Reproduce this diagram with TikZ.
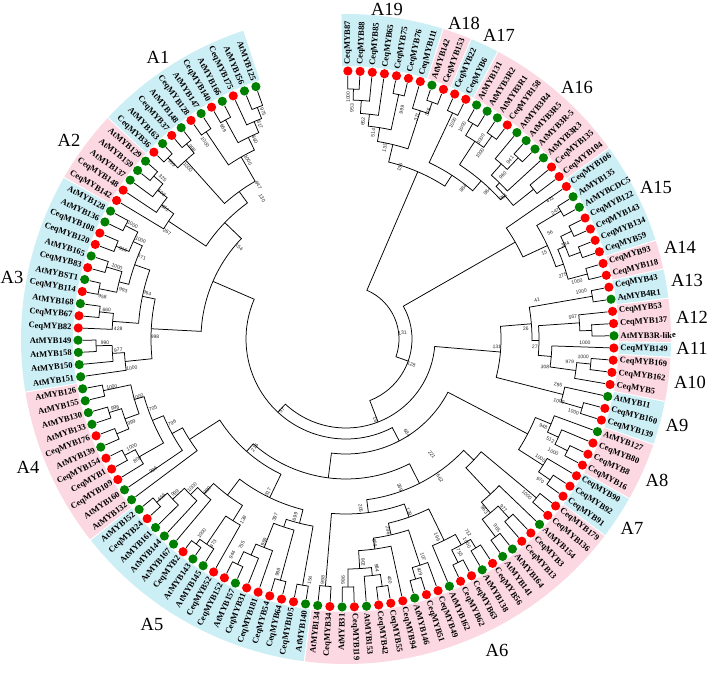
\documentclass[tikz,border=0pt]{standalone}
\usepackage{fontspec}
\setmainfont{Liberation Serif}
\newfontfamily\bsfont{Liberation Sans}
\definecolor{bandblue}{RGB}{204,238,245}
\definecolor{bandpink}{RGB}{251,216,226}
\definecolor{dotr}{RGB}{255,0,0}
\definecolor{dotg}{RGB}{0,128,0}
\tikzset{
 leaflab/.style={font=\fontsize{8.5}{9}\selectfont\bfseries, inner sep=0pt},
 bslab/.style={font=\bsfont\fontsize{5}{5}\selectfont, text=black!85, inner sep=0.3pt},
 br/.style={line width=0.75pt, black, line join=miter},
 cladelab/.style={font=\fontsize{18.5}{19}\selectfont, inner sep=0pt},
}
\newcommand\LF[3]{%
 \pgfmathsetmacro\lfang{89.6-(#1-1)*2.615}%
 \expandafter\xdef\csname TA@L#1\endcsname{\lfang}%
 \expandafter\xdef\csname TR@L#1\endcsname{263}%
 \fill[dot#3] (\lfang:268) circle (4.6);%
 \ifdim\lfang pt<-90pt
   \pgfmathsetmacro\lfrot{\lfang+180}%
   \node[leaflab,anchor=east,rotate=\lfrot] (lab#1) at (\lfang:274.5) {#2};%
 \else
   \node[leaflab,anchor=west,rotate=\lfang] (lab#1) at (\lfang:274.5) {#2};%
 \fi
}
\newcommand\BS[4]{%
 \ifx\relax#4\relax\else
 \ifdim #2pt<-90pt \pgfmathsetmacro\bsrot{#2+180}\else\pgfmathsetmacro\bsrot{#2}\fi
 \node[bslab,rotate=\bsrot] (bs#1) at (#2:#3) {#4};%
 \fi}
% \ND{name}{radius}{child1}{child2}{bootstrap}{label bearing}{label radius}
\newcommand\ND[7]{%
 \edef\ndA{\csname TA@#3\endcsname}%
 \edef\ndB{\csname TA@#4\endcsname}%
 \edef\ndRA{\csname TR@#3\endcsname}%
 \edef\ndRB{\csname TR@#4\endcsname}%
 \pgfmathsetmacro\ndM{(\ndA+\ndB)/2}%
 \expandafter\xdef\csname TA@#1\endcsname{\ndM}%
 \expandafter\xdef\csname TR@#1\endcsname{#2}%
 \draw[br] (\ndA:\ndRA) -- (\ndA:#2) arc[start angle=\ndA, end angle=\ndB, radius=#2] -- (\ndB:\ndRB);%
 \ifx\relax#6\relax
   \pgfmathsetmacro\bsang{\ndM+1.5}\pgfmathsetmacro\bsrad{#2-8}%
 \else
   \pgfmathsetmacro\bsang{90-#6}\pgfmathsetmacro\bsrad{#7}%
 \fi
 \BS{#1}{\bsang}{\bsrad}{#5}%
}
\newcommand\BAND[3]{%
 \pgfmathsetmacro\bdA{89.6-(#1-1)*2.615+1.2}%
 \pgfmathsetmacro\bdB{89.6-(#2-1)*2.615-1.2}%
 \fill[#3] (\bdA:273) arc[start angle=\bdA,end angle=\bdB,radius=273] -- (\bdB:325) arc[start angle=\bdB,end angle=\bdA,radius=325] -- cycle;%
}
\begin{document}
\begin{tikzpicture}[x=1pt,y=1pt]
\useasboundingbox (-346,-337) rectangle (363,339);
% bands
\BAND{1}{7}{bandblue}\BAND{8}{9}{bandpink}\BAND{10}{11}{bandblue}\BAND{12}{21}{bandpink}
\BAND{22}{28}{bandblue}\BAND{29}{30}{bandpink}\BAND{31}{32}{bandblue}\BAND{33}{35}{bandpink}
\BAND{36}{36}{bandblue}\BAND{37}{39}{bandpink}\BAND{40}{42}{bandblue}\BAND{43}{46}{bandpink}
\BAND{47}{49}{bandblue}\BAND{50}{72}{bandpink}\BAND{73}{89}{bandblue}\BAND{90}{100}{bandpink}
\BAND{101}{115}{bandblue}\BAND{116}{120}{bandpink}\BAND{121}{131}{bandblue}
% leaves
\LF{1}{CeqMYB87}{r}\LF{2}{CeqMYB88}{r}\LF{3}{CeqMYB85}{r}\LF{4}{CeqMYB65}{r}
\LF{5}{CeqMYB75}{r}\LF{6}{CeqMYB76}{r}\LF{7}{CeqMYB111}{r}\LF{8}{AtMYB142}{g}
\LF{9}{CeqMYB153}{r}\LF{10}{CeqMYB22}{r}\LF{11}{CeqMYB6}{r}\LF{12}{AtMYB131}{g}
\LF{13}{AtMYB3R2}{g}\LF{14}{AtMYB3R1}{g}\LF{15}{CeqMYB158}{r}\LF{16}{AtMYB3R4}{g}
\LF{17}{AtMYB3R5}{g}\LF{18}{AtMYB3R-5}{g}\LF{19}{AtMYB3R3}{g}\LF{20}{CeqMYB135}{r}
\LF{21}{CeqMYB104}{r}\LF{22}{CeqMYB106}{r}\LF{23}{AtMYB135}{g}\LF{24}{AtMYBCDC5}{g}
\LF{25}{CeqMYB122}{r}\LF{26}{CeqMYB143}{r}\LF{27}{CeqMYB134}{r}\LF{28}{CeqMYB59}{r}
\LF{29}{CeqMYB93}{r}\LF{30}{CeqMYB118}{r}\LF{31}{CeqMYB43}{r}\LF{32}{AtMYB4R1}{g}
\LF{33}{CeqMYB53}{r}\LF{34}{CeqMYB137}{r}\LF{35}{AtMYB3R-like}{g}\LF{36}{CeqMYB149}{r}
\LF{37}{CeqMYB169}{r}\LF{38}{CeqMYB162}{r}\LF{39}{CeqMYB5}{r}\LF{40}{AtMYB11}{g}
\LF{41}{CeqMYB160}{r}\LF{42}{CeqMYB139}{r}\LF{43}{AtMYB127}{g}\LF{44}{CeqMYB80}{r}
\LF{45}{CeqMYB8}{r}\LF{46}{CeqMYB16}{r}\LF{47}{CeqMYB90}{r}\LF{48}{CeqMYB92}{r}
\LF{49}{CeqMYB91}{r}\LF{50}{CeqMYB179}{r}\LF{51}{CeqMYB136}{r}\LF{52}{AtMYB154}{g}
\LF{53}{CeqMYB3}{r}\LF{54}{CeqMYB13}{r}\LF{55}{AtMYB164}{g}\LF{56}{AtMYB141}{g}
\LF{57}{CeqMYB56}{r}\LF{58}{AtMYB138}{g}\LF{59}{CeqMYB63}{r}\LF{60}{CeqMYB62}{r}
\LF{61}{AtMYB162}{g}\LF{62}{CeqMYB49}{r}\LF{63}{CeqMYB51}{r}\LF{64}{AtMYB146}{g}
\LF{65}{CeqMYB94}{r}\LF{66}{CeqMYB55}{r}\LF{67}{CeqMYB42}{r}\LF{68}{AtMYB153}{g}
\LF{69}{CeqMYB119}{r}\LF{70}{AtMYB31}{g}\LF{71}{CeqMYB34}{r}\LF{72}{AtMYB134}{g}
\LF{73}{AtMYB140}{g}\LF{74}{CeqMYB105}{r}\LF{75}{CeqMYB64}{r}\LF{76}{CeqMYB54}{r}
\LF{77}{CeqMYB181}{r}\LF{78}{CeqMYB31}{r}\LF{79}{AtMYB157}{g}\LF{80}{CeqMYB152}{r}
\LF{81}{CeqMYB52}{r}\LF{82}{AtMYB145}{g}\LF{83}{AtMYB143}{g}\LF{84}{CeqMYB2}{r}
\LF{85}{AtMYB167}{g}\LF{86}{AtMYB144}{g}\LF{87}{AtMYB161}{g}\LF{88}{CeqMYB24}{r}
\LF{89}{AtMYB152}{g}\LF{90}{AtMYB132}{g}\LF{91}{AtMYB160}{g}\LF{92}{CeqMYB109}{r}
\LF{93}{CeqMYB1}{r}\LF{94}{CeqMYB154}{r}\LF{95}{AtMYB139}{g}\LF{96}{CeqMYB176}{r}
\LF{97}{AtMYB133}{g}\LF{98}{AtMYB130}{g}\LF{99}{AtMYB155}{g}\LF{100}{AtMYB126}{g}
\LF{101}{AtMYB151}{g}\LF{102}{AtMYB150}{g}\LF{103}{AtMYB158}{g}\LF{104}{AtMYB149}{g}
\LF{105}{CeqMYB82}{r}\LF{106}{CeqMYB67}{r}\LF{107}{AtMYB168}{g}\LF{108}{CeqMYB114}{r}
\LF{109}{AtMYBST1}{g}\LF{110}{CeqMYB83}{r}\LF{111}{AtMYB165}{g}\LF{112}{CeqMYB120}{r}
\LF{113}{CeqMYB108}{r}\LF{114}{AtMYB136}{g}\LF{115}{AtMYB128}{g}\LF{116}{CeqMYB142}{r}
\LF{117}{CeqMYB148}{r}\LF{118}{AtMYB137}{g}\LF{119}{AtMYB159}{g}\LF{120}{AtMYB129}{g}
\LF{121}{CeqMYB36}{r}\LF{122}{AtMYB163}{g}\LF{123}{CeqMYB37}{r}\LF{124}{AtMYB148}{g}
\LF{125}{CeqMYB128}{r}\LF{126}{AtMYB147}{g}\LF{127}{CeqMYB140}{r}\LF{128}{AtMYB166}{g}
\LF{129}{CeqMYB175}{r}\LF{130}{AtMYB156}{g}\LF{131}{AtMYB125}{g}
% ---- tree: A19-A16
\ND{n1}{250}{L1}{L2}{1000}{0.5}{242}
\ND{n2}{239}{n1}{L3}{953}{1.5}{231}
\ND{n3}{226}{n2}{L4}{652}{4.5}{218}
\ND{n4}{250}{L5}{L6}{999}{13.7}{236}
\ND{n5}{214}{n3}{n4}{514}{7.5}{208}
\ND{n6}{252}{L8}{L9}{375}{19.9}{241}
\ND{n7}{240}{L7}{n6}{371}{17.7}{233}
\ND{n8}{200}{n5}{n7}{135}{11.5}{195}
\ND{n9}{250}{L10}{L11}{1000}{26.3}{241}
\ND{m1}{250}{L12}{L13}{1000}{28.7}{242}
\ND{m2}{250}{L14}{L15}{1000}{34}{241}
\ND{m3}{236}{m1}{m2}{1000}{35.8}{229}
\ND{m4}{250}{L17}{L18}{941}{42.5}{243}
\ND{m5}{234}{L16}{m4}{960}{43.7}{227}
\ND{m6}{219}{m5}{L19}{961}{47.9}{212}
\ND{m7}{240}{L20}{L21}{}{}{}
\ND{m8}{214}{m6}{m7}{}{}{}
\ND{m9}{208}{m3}{m8}{964}{43.8}{204}
\ND{m10}{195}{n9}{m9}{884}{37.8}{191}
\ND{n20}{182}{n8}{m10}{135}{17.4}{180}
% A15-A14
\ND{a1}{250}{L23}{L24}{411}{55.7}{247}
\ND{a2}{250}{L25}{L26}{247}{58.7}{245}
\ND{a3}{250}{L27}{L28}{394}{66.6}{239}
\ND{a4}{238}{a2}{a3}{56}{62.5}{230}
\ND{a7}{250}{L29}{L30}{1000}{76}{238}
\ND{a8}{230}{a4}{a7}{275}{73.6}{226}
\ND{a5}{222}{a1}{a8}{15}{66.6}{216}
\ND{a6}{195}{L22}{a5}{41}{78.5}{195}
% A13-A10
\ND{b1}{250}{L31}{L32}{1000}{78.6}{240}
\ND{b2}{246}{L34}{L35}{1000}{91}{239}
\ND{b3}{234}{L33}{b2}{567}{84.5}{228}
\ND{b5}{246}{L37}{L38}{1000}{94.3}{238}
\ND{b6}{232}{b5}{L39}{979}{95.9}{225}
\ND{n308}{206}{L36}{b6}{308}{98}{201}
\ND{N27}{193}{b3}{n308}{27}{92.4}{189}
\ND{N26}{186}{b1}{N27}{26}{86.8}{180}
% A9
\ND{b8}{246}{L41}{L42}{1000}{107.8}{239}
\ND{b9}{224}{L40}{b8}{295}{102.2}{217}
\ND{N131b}{155}{N26}{b9}{131}{93}{151}
% A8-A7
\ND{c1}{248}{L45}{L46}{1000}{118.6}{236}
\ND{c2}{234}{L44}{c1}{512}{116.3}{228}
\ND{c3}{222}{L43}{c2}{948}{114}{216}
\ND{c4}{248}{L48}{L49}{970}{126}{240}
\ND{c5}{234}{L47}{c4}{1000}{121.5}{228}
\ND{c6}{205}{c3}{c5}{1000}{106.3}{222}
% A6
\ND{d1}{248}{L50}{L51}{1000}{130.8}{239}
\ND{dA}{248}{L55}{L56}{965}{141.4}{242}
\ND{dB}{242}{L53}{L54}{977}{137}{231}
\ND{dC}{226}{dB}{dA}{963}{141}{220}
\ND{dD}{212}{L52}{dC}{}{}{}
\ND{dE}{176}{d1}{dD}{662}{146}{168}
\ND{d7}{246}{L57}{L58}{1000}{149.3}{237}
\ND{d8}{250}{L59}{L60}{755}{152}{242}
\ND{d9}{236}{d7}{d8}{712}{147.8}{229}
\ND{d10}{224}{d9}{L61}{196}{155.3}{218}
\ND{d11}{250}{L63}{L64}{409}{162.4}{244}
\ND{d12}{238}{L62}{d11}{107}{160.5}{231}
\ND{d13}{250}{L66}{L67}{400}{169.7}{245}
\ND{d14}{238}{d13}{L68}{984}{172.3}{231}
\ND{e1}{248}{L69}{L70}{986}{180.7}{241}
\ND{d15}{230}{d14}{e1}{902}{175.6}{224}
\ND{d16}{212}{L65}{d15}{609}{172}{206}
\ND{d17}{201}{d12}{d16}{296}{167.6}{196}
\ND{d18}{189}{d10}{d17}{139}{160}{184}
\ND{e2}{248}{L71}{L72}{998}{185.5}{242}
\ND{d19}{175}{d18}{e2}{205}{175}{170}
\ND{d20}{162}{dE}{d19}{369}{160}{158}
% A5
\ND{f1}{250}{L73}{L74}{154}{188.5}{244}
\ND{f2}{250}{L75}{L76}{998}{196.3}{243}
\ND{f3}{250}{L79}{L80}{944}{207.8}{244}
\ND{f4}{236}{L78}{f3}{755}{206.8}{231}
\ND{f5}{224}{L77}{f4}{969}{202}{219}
\ND{f6}{198}{f2}{f5}{397}{201.7}{192}
\ND{f7}{190}{f1}{f6}{699}{196}{185}
\ND{g1}{254}{L83}{L84}{1000}{216.6}{242}
\ND{g2}{248}{L82}{g1}{973}{213}{244}
\ND{g3}{250}{L88}{L89}{656}{229.3}{243}
\ND{g4}{236}{L87}{g3}{999}{228}{230}
\ND{g5}{220}{L86}{g4}{1000}{226}{214}
\ND{g6}{210}{L85}{g5}{989}{222.6}{205}
\ND{g7}{214}{L81}{g2}{139}{209.6}{208}
\ND{g8}{196}{g7}{g6}{}{}{}
\ND{a5r}{176}{f7}{g8}{317}{207}{172}
% A4
\ND{h1}{250}{L93}{L94}{809}{240}{241}
\ND{h2}{238}{L92}{h1}{996}{235.8}{233}
\ND{i1}{248}{L99}{L100}{1000}{258.4}{239}
\ND{i2}{248}{L97}{L98}{998}{253.4}{241}
\ND{i4}{248}{L95}{L96}{1000}{243.2}{240}
\ND{i3}{235}{i4}{i2}{999}{248.8}{230}
\ND{i5}{220}{i3}{i1}{1000}{254.4}{216}
\ND{i6}{210}{h2}{i5}{705}{250.3}{205}
\ND{i7}{198}{L91}{i6}{796}{244.2}{193}
\ND{i8}{186}{L90}{i7}{}{}{}
\ND{a54}{150}{a5r}{i8}{216}{}{}
% bottom backbone
\ND{rest}{140}{d20}{a54}{221}{143.4}{144}
\ND{bot}{115}{c6}{rest}{684}{147}{112}
% A3
\ND{j1}{250}{L103}{L104}{990}{269}{241}
\ND{j2}{234}{L102}{j1}{977}{267.2}{228}
\ND{j3}{222}{L101}{j2}{1000}{262.3}{216}
\ND{j4}{248}{L106}{L107}{660}{276.9}{241}
\ND{j5}{234}{L105}{j4}{428}{272.5}{228}
\ND{j6}{252}{L108}{L109}{958}{279.8}{247}
\ND{j7}{250}{L110}{L111}{1000}{287.5}{240}
\ND{j8}{234}{j6}{j7}{993}{282.4}{228}
\ND{j9}{248}{L112}{L113}{916}{291.8}{240}
\ND{j10}{248}{L114}{L115}{1000}{298.2}{242}
\ND{j11}{234}{j9}{j10}{1000}{295.7}{228}
\ND{j12}{224}{j8}{j11}{671}{291.9}{220}
\ND{j13}{208}{j5}{j12}{964}{283}{204}
\ND{j14}{195}{j3}{j13}{998}{270.6}{191}
% A2
\ND{k1}{252}{L119}{L120}{325}{311.3}{244}
\ND{k2}{240}{L118}{k1}{508}{308.4}{235}
\ND{k3}{228}{L117}{k2}{611}{305.9}{223}
\ND{k4}{213}{L116}{k3}{267}{300.9}{208.5}
% A1
\ND{o1}{254}{L121}{L122}{999}{315.3}{247.5}
\ND{o2}{252}{L123}{L124}{998}{321.1}{245}
\ND{o3}{240}{o1}{o2}{1000}{317.4}{233.6}
\ND{o4}{250}{L125}{L126}{1000}{324.4}{242}
\ND{o5}{250}{L127}{L128}{969}{329.8}{244}
\ND{o6}{248}{L130}{L131}{975}{339.9}{241.7}
\ND{o7}{236}{L129}{o6}{617}{338.1}{230.6}
\ND{o8}{224}{o5}{o7}{860}{335.4}{219}
\ND{o9}{210}{o4}{o8}{1000}{331.3}{204}
\ND{o10}{182}{o3}{o9}{947}{330.3}{177}
\ND{p130}{168}{k4}{o10}{130}{329.2}{164}
\ND{p154}{145}{j14}{p130}{154}{310.7}{141}
% central backbone
\ND{N57}{100}{bot}{p154}{57}{222}{96}
\ND{N16}{89}{N131b}{N57}{16}{160}{86}
\ND{N128}{66}{a6}{N16}{128}{111}{70}
\ND{root}{53}{n20}{N128}{131}{84}{57}
% clade labels
\node[cladelab] (cA19) at (41,330) {A19};
\node[cladelab] (cA18) at (118,316) {A18};
\node[cladelab] (cA17) at (153,304) {A17};
\node[cladelab] (cA16) at (231,252) {A16};
\node[cladelab] (cA15) at (310,152) {A15};
\node[cladelab] (cA14) at (334,92) {A14};
\node[cladelab] (cA13) at (341,59) {A13};
\node[cladelab] (cA12) at (346,22) {A12};
\node[cladelab] (cA11) at (346,-9) {A11};
\node[cladelab] (cA10) at (344,-43) {A10};
\node[cladelab] (cA9) at (331,-86) {A9};
\node[cladelab] (cA8) at (311,-141) {A8};
\node[cladelab] (cA7) at (286,-189) {A7};
\node[cladelab] (cA6) at (151,-311) {A6};
\node[cladelab] (cA5) at (-194,-285) {A5};
\node[cladelab] (cA4) at (-318,-128) {A4};
\node[cladelab] (cA3) at (-334,62) {A3};
\node[cladelab] (cA2) at (-277,199) {A2};
\node[cladelab] (cA1) at (-188,282) {A1};
\end{tikzpicture}
\end{document}
